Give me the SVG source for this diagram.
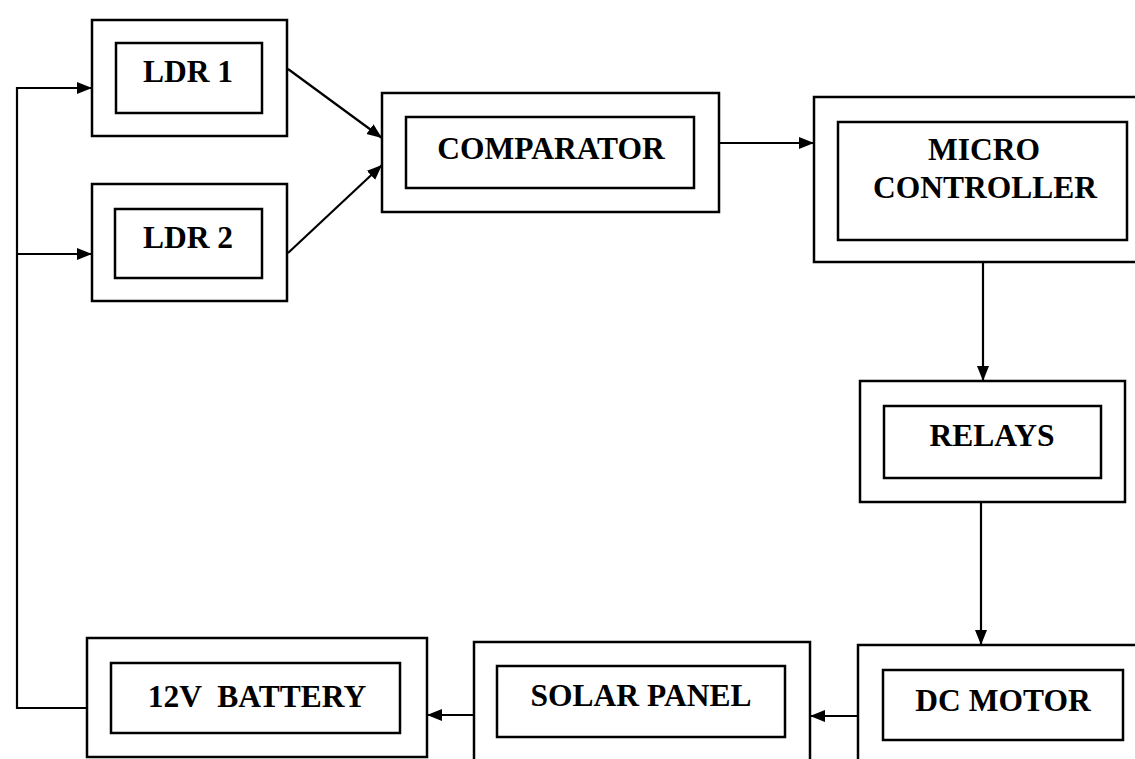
<svg xmlns="http://www.w3.org/2000/svg" width="1135" height="759" viewBox="0 0 1135 759">
<style>
.box{fill:none;stroke:#000;stroke-width:2.5}
.lbl{font-family:"Liberation Serif","Times New Roman",serif;font-weight:bold;font-size:31.5px;fill:#000;text-anchor:middle}
.con{fill:none;stroke:#000;stroke-width:2.2}
</style>
<defs>
<marker id="ah" markerUnits="userSpaceOnUse" markerWidth="16" markerHeight="14" refX="15" refY="6" orient="auto">
<path d="M0,0 L15,6 L0,12 Z" fill="#000"/>
</marker>
</defs>
<rect width="1135" height="759" fill="#fff"/>
<g id="ldr1">
<rect class="box" x="92" y="20" width="195" height="116"/>
<rect class="box" x="116" y="43" width="146" height="70"/>
<text class="lbl" x="188" y="82">LDR 1</text>
</g>
<g id="ldr2">
<rect class="box" x="92" y="184" width="195" height="117"/>
<rect class="box" x="115" y="209" width="147" height="69"/>
<text class="lbl" x="188" y="248">LDR 2</text>
</g>
<g id="comparator">
<rect class="box" x="382" y="93" width="337" height="119"/>
<rect class="box" x="406" y="117" width="288" height="71"/>
<text class="lbl" x="551" y="159">COMPARATOR</text>
</g>
<g id="microcontroller">
<rect class="box" x="814" y="97" width="330" height="165"/>
<rect class="box" x="838" y="122" width="289" height="118"/>
<text class="lbl" x="984" y="160">MICRO</text>
<text class="lbl" x="985" y="198">CONTROLLER</text>
</g>
<g id="relays">
<rect class="box" x="860" y="381" width="265" height="121"/>
<rect class="box" x="884" y="406" width="217" height="72"/>
<text class="lbl" x="992" y="446">RELAYS</text>
</g>
<g id="dcmotor">
<rect class="box" x="858" y="645" width="290" height="130"/>
<rect class="box" x="883" y="670" width="240" height="70"/>
<text class="lbl" x="1003" y="711">DC MOTOR</text>
</g>
<g id="solarpanel">
<rect class="box" x="474" y="642" width="336" height="130"/>
<rect class="box" x="497" y="666" width="288" height="71"/>
<text class="lbl" x="641" y="706">SOLAR PANEL</text>
</g>
<g id="battery">
<rect class="box" x="87" y="638" width="340" height="119"/>
<rect class="box" x="111" y="663" width="289" height="70"/>
<text class="lbl" x="257" y="707" xml:space="preserve">12V  BATTERY</text>
</g>
<g id="connectors">
<line class="con" x1="288" y1="69" x2="382" y2="138" marker-end="url(#ah)"/>
<line class="con" x1="288" y1="253" x2="382" y2="165" marker-end="url(#ah)"/>
<line class="con" x1="719" y1="143" x2="814" y2="143" marker-end="url(#ah)"/>
<line class="con" x1="983" y1="262" x2="983" y2="381" marker-end="url(#ah)"/>
<line class="con" x1="981" y1="502" x2="981" y2="645" marker-end="url(#ah)"/>
<line class="con" x1="858" y1="716" x2="810" y2="716" marker-end="url(#ah)"/>
<line class="con" x1="474" y1="715" x2="427" y2="715" marker-end="url(#ah)"/>
<polyline class="con" points="87,708 17,708 17,88 92,88" marker-end="url(#ah)"/>
<line class="con" x1="17" y1="254" x2="92" y2="254" marker-end="url(#ah)"/>
</g>
</svg>
